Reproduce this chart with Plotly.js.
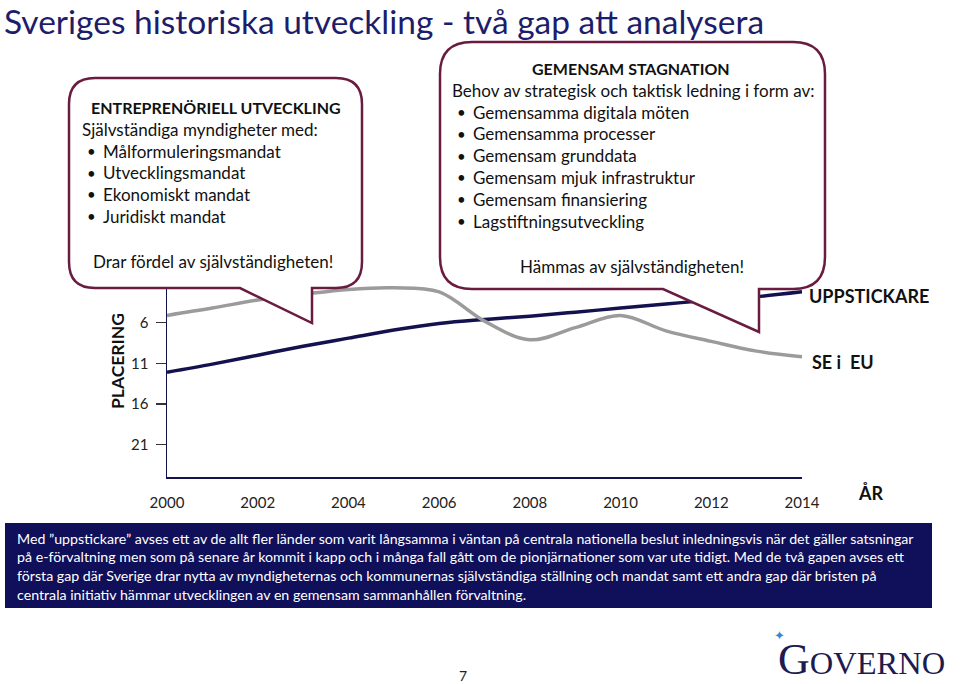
<!DOCTYPE html>
<html>
<head>
<meta charset="utf-8">
<script src="https://cdn.plot.ly/plotly-3.0.1.min.js"></script>
<style>
html,body{margin:0;padding:0;background:#fff;}
#chart{width:960px;height:684px;}
</style>
</head>
<body>
<div id="chart"></div>
<script>
// ---------------- DATA ----------------
const years = [2000, 2001, 2002, 2003, 2004, 2005, 2006, 2007, 2008, 2009, 2010, 2011, 2012, 2013, 2014];
const uppstickare = [12.1, 11.1, 10.0, 8.9, 7.9, 6.9, 6.1, 5.6, 5.2, 4.7, 4.2, 3.7, 3.2, 2.8, 2.2];
const seIEu = [5.1, 4.2, 3.2, 2.5, 1.9, 1.7, 2.2, 5.8, 8.1, 6.6, 5.1, 7.0, 8.3, 9.5, 10.2];
const yTicks = [6, 11, 16, 21];
const xTicks = [2000, 2002, 2004, 2006, 2008, 2010, 2012, 2014];
const seriesNames = ['UPPSTICKARE', 'SE i  EU'];

const titleText = 'Sveriges historiska utveckling - två gap att analysera';
const box1Head = 'ENTREPRENÖRIELL UTVECKLING';
const box1Intro = 'Självständiga myndigheter med:';
const box1Items = ['Målformuleringsmandat', 'Utvecklingsmandat', 'Ekonomiskt mandat', 'Juridiskt mandat'];
const box1Foot = 'Drar fördel av självständigheten!';
const box2Head = 'GEMENSAM STAGNATION';
const box2Intro = 'Behov av strategisk och taktisk ledning i form av:';
const box2Items = ['Gemensamma digitala möten', 'Gemensamma processer', 'Gemensam grunddata',
  'Gemensam mjuk infrastruktur', 'Gemensam finansiering', 'Lagstiftningsutveckling'];
const box2Foot = 'Hämmas av självständigheten!';
const noteLines = [
  'Med ”uppstickare” avses ett av de allt fler länder som varit långsamma i väntan på centrala nationella beslut inledningsvis när det gäller satsningar',
  'på e-förvaltning men som på senare år kommit i kapp och i många fall gått om de pionjärnationer som var ute tidigt. Med de två gapen avses ett',
  'första gap där Sverige drar nytta av myndigheternas och kommunernas självständiga ställning och mandat samt ett andra gap där bristen på',
  'centrala initiativ hämmar utvecklingen av en gemensam sammanhållen förvaltning.'
];

// ---------------- LAYOUT HELPERS ----------------
const W = 960, H = 684;
const L = 167, R = 802, T = 274, B = 477;
const px = x => (x - L) / (R - L);
const py = y => (B - y) / (B - T);
const FONT = 'Lato, "Open Sans", sans-serif';
const NAVY = '#13124f';
const MAROON = '#6a1c40';

function ann(text, x, y, o) {
  o = o || {};
  return {
    text: text, xref: 'paper', yref: 'paper', x: px(x), y: py(y),
    xanchor: o.xa || 'left', yanchor: o.ya || 'middle', showarrow: false,
    textangle: o.angle || 0, borderpad: 0,
    font: {family: o.family || FONT, size: o.size || 17, color: o.color || '#111'}
  };
}

function callout(x0, y0, x1, y1, r, tA, tTip, tTipY) {
  const P = (x, y) => px(x).toFixed(5) + ',' + py(y).toFixed(5);
  return 'M' + P(x0 + r, y0) + ' L' + P(x1 - r, y0) + ' Q' + P(x1, y0) + ' ' + P(x1, y0 + r) +
    ' L' + P(x1, y1 - r) + ' Q' + P(x1, y1) + ' ' + P(x1 - r, y1) +
    ' L' + P(tTip, y1) + ' L' + P(tTip, tTipY) + ' L' + P(tA, y1) +
    ' L' + P(x0 + r, y1) + ' Q' + P(x0, y1) + ' ' + P(x0, y1 - r) +
    ' L' + P(x0, y0 + r) + ' Q' + P(x0, y0) + ' ' + P(x0 + r, y0) + ' Z';
}

// ---------------- TRACES ----------------
const traces = [
  {x: years, y: uppstickare, name: seriesNames[0], type: 'scatter', mode: 'lines',
   line: {color: NAVY, width: 3.5, shape: 'spline', smoothing: 1}},
  {x: years, y: seIEu, name: seriesNames[1], type: 'scatter', mode: 'lines',
   line: {color: '#9b9b9b', width: 3.5, shape: 'spline', smoothing: 1}}
];

// ---------------- SHAPES ----------------
const shapes = [
  {type: 'path', xref: 'paper', yref: 'paper', layer: 'above',
   path: callout(69, 78, 362, 288, 26, 240, 312, 323),
   fillcolor: '#ffffff', line: {color: MAROON, width: 2.5}},
  {type: 'path', xref: 'paper', yref: 'paper', layer: 'above',
   path: callout(440, 42, 825, 289, 32, 663, 759, 332),
   fillcolor: '#ffffff', line: {color: MAROON, width: 2.5}},
  {type: 'rect', xref: 'paper', yref: 'paper', layer: 'above',
   x0: px(5), x1: px(932), y0: py(523), y1: py(608),
   fillcolor: '#10105a', line: {width: 0}}
];

// ---------------- ANNOTATIONS ----------------
const anns = [];
anns.push(ann(titleText, 3, 21, {size: 33.5, color: '#1d1d6b'}));

// callout 1
anns.push(ann('<b>' + box1Head + '</b>', 216, 107, {xa: 'center', size: 16}));
anns.push(ann(box1Intro, 81, 129));
box1Items.forEach((t, i) => {
  anns.push(ann('•', 86, 151 + i * 21.7, {size: 15}));
  anns.push(ann(t, 102, 151 + i * 21.7));
});
anns.push(ann(box1Foot, 92, 261));

// callout 2
anns.push(ann('<b>' + box2Head + '</b>', 631, 69, {xa: 'center', size: 16}));
anns.push(ann(box2Intro, 451, 90));
box2Items.forEach((t, i) => {
  anns.push(ann('•', 456, 112 + i * 21.8, {size: 15}));
  anns.push(ann(t, 472, 112 + i * 21.8));
});
anns.push(ann(box2Foot, 632, 266, {xa: 'center'}));

// series labels & axis labels
anns.push(ann('<b>' + seriesNames[0] + '</b>', 808, 296, {size: 18}));
anns.push(ann('<b>' + seriesNames[1] + '</b>', 811, 362, {size: 18}));
anns.push(ann('<b>ÅR</b>', 871, 493, {xa: 'center', size: 18}));
anns.push(ann('<b>PLACERING</b>', 117, 361, {xa: 'center', angle: -90, size: 17.5}));

// note box text
noteLines.forEach((t, i) => {
  anns.push(ann(t, 16, 538 + i * 18.8, {size: 14.2, color: '#ffffff'}));
});

// page number and logo
anns.push(ann('7', 463, 675, {xa: 'center', size: 14, color: '#222'}));
anns.push(ann('✦', 779, 635, {xa: 'center', size: 13, color: '#3a86d0', family: 'DejaVu Sans'}));
anns.push(ann('<span style="font-size:44px">G</span>OVERNO', 777, 659,
  {size: 32.5, color: '#1c1c50', family: '"Liberation Serif", "DejaVu Serif", serif'}));

const layout = {
  width: W, height: H,
  margin: {l: L, r: W - R, t: T, b: H - B, pad: 0},
  paper_bgcolor: '#ffffff', plot_bgcolor: '#ffffff',
  showlegend: false,
  font: {family: FONT, color: '#222'},
  xaxis: {
    range: [2000, 2014], tickvals: xTicks, ticktext: xTicks.map(String),
    showline: true, linecolor: NAVY, linewidth: 1.5, mirror: false,
    ticks: '', showgrid: false, zeroline: false, ticklabelstandoff: 11,
    tickfont: {family: FONT, size: 15, color: '#222'}, fixedrange: true
  },
  yaxis: {
    range: [25, 0], tickvals: yTicks, ticktext: yTicks.map(String),
    showline: true, linecolor: NAVY, linewidth: 1.5,
    ticks: 'outside', ticklen: 10, tickwidth: 1.3, tickcolor: '#333',
    showgrid: false, zeroline: false, ticklabelstandoff: 4,
    tickfont: {family: FONT, size: 15, color: '#222'}, fixedrange: true
  },
  shapes: shapes,
  annotations: anns
};

Plotly.newPlot('chart', traces, layout, {staticPlot: true, displayModeBar: false});
</script>
</body>
</html>
